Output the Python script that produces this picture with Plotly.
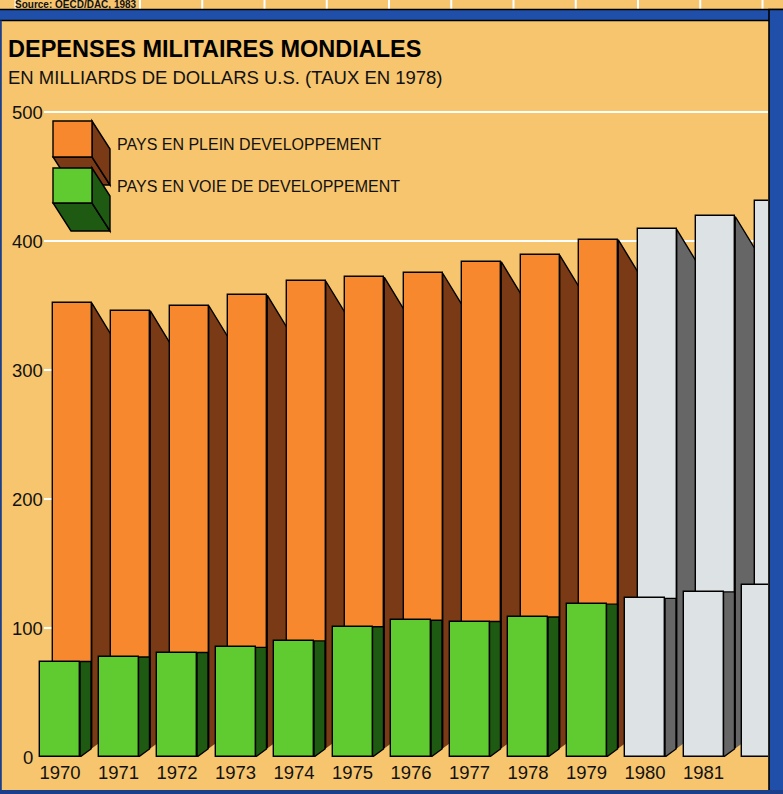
import plotly.graph_objects as go

# ---------------- data ----------------
years = list(range(1970, 1983))
pays_plein_dev = [352, 346, 350, 358, 369, 372, 375, 384, 389, 401, 409, 419, 431]
pays_voie_dev = [74, 77.5, 81, 85, 90, 101, 106, 105, 108.5, 118.5, 123, 128, 133]
tick_years = list(range(1970, 1982))
y_ticks = [0, 100, 200, 300, 400, 500]
first_estimate_year = 1980

title = "DEPENSES MILITAIRES MONDIALES"
subtitle = "EN MILLIARDS DE DOLLARS U.S. (TAUX EN 1978)"
legend_labels = ["PAYS EN PLEIN DEVELOPPEMENT", "PAYS EN VOIE DE DEVELOPPEMENT"]
source_text = "Source: OECD/DAC, 1983"

# ---------------- style / geometry ----------------
W, H = 783, 794
M_L, M_R, M_T, M_B = 0, 15, 21, 37
PLOT_W = W - M_L - M_R
PLOT_H = H - M_T - M_B
PX_PER_YEAR = 58.5
PX_PER_UNIT = 1.29
FIRST_CENTER_PX = 60

x_range = [years[0] - FIRST_CENTER_PX / PX_PER_YEAR,
           years[0] + (PLOT_W - FIRST_CENTER_PX) / PX_PER_YEAR]
y_range = [0, PLOT_H / PX_PER_UNIT]

TAN = "#f6c56e"
ORANGE, BROWN = "#f8882e", "#7a3a15"
GREEN, DKGREEN = "#5fcb30", "#1f5a12"
GRAY_F, GRAY_S = "#dde3e5", "#666666"
BLUE = "#1f4fa8"
INK = "#111111"
FONT = "Liberation Sans"

# bar geometry in data units
O_OFF, O_W = -7.3 / PX_PER_YEAR, 39 / PX_PER_YEAR
O_DX = 1 - O_W
O_DROP = (29.5 / 18) * (O_DX * PX_PER_YEAR) / PX_PER_UNIT
G_OFF, G_W = -20 / PX_PER_YEAR, 40 / PX_PER_YEAR
G_DX = 11 / PX_PER_YEAR
G_RISE = 8 / PX_PER_UNIT
GAP = 1 - G_W
GAP_RISE = G_RISE * GAP / G_DX


def px(x):
    return (x - M_L) / PLOT_W


def py(y):
    return (H - M_B - y) / PLOT_H


est = [y >= first_estimate_year for y in years]
up_front = [GRAY_F if e else ORANGE for e in est]
up_side = [GRAY_S if e else BROWN for e in est]
lo_front = [GRAY_F if e else GREEN for e in est]
lo_side = [GRAY_S if e else DKGREEN for e in est]

fig = go.Figure()

# upper (orange / grey) side faces
for yr, v, c in zip(years, pays_plein_dev, up_side):
    xr = yr + O_OFF + O_W
    fig.add_trace(go.Scatter(
        x=[xr, xr + O_DX, xr + O_DX, xr, xr],
        y=[v, v - O_DROP, 0, 0, v],
        mode="lines", fill="toself", fillcolor=c,
        line=dict(color="black", width=1.4),
        hoverinfo="skip", showlegend=False, zorder=0))

# upper front faces
fig.add_trace(go.Bar(
    x=years, y=pays_plein_dev, width=O_W, offset=O_OFF,
    marker=dict(color=up_front, line=dict(color="black", width=1.4)),
    hoverinfo="skip", showlegend=False, zorder=1))

# ground cut between bars
for yr in years:
    xr = yr + G_OFF + G_W
    fig.add_trace(go.Scatter(
        x=[xr, xr + GAP, xr + GAP, xr],
        y=[0, GAP_RISE, 0, 0],
        mode="lines", fill="toself", fillcolor=TAN,
        line=dict(color=TAN, width=0),
        hoverinfo="skip", showlegend=False, zorder=2))

# lower (green / grey) side faces
for yr, v, c in zip(years, pays_voie_dev, lo_side):
    xr = yr + G_OFF + G_W
    fig.add_trace(go.Scatter(
        x=[xr, xr + G_DX, xr + G_DX, xr, xr],
        y=[v, v, G_RISE, 0, v],
        mode="lines", fill="toself", fillcolor=c,
        line=dict(color="black", width=1.4),
        hoverinfo="skip", showlegend=False, zorder=3))

# lower front faces
fig.add_trace(go.Bar(
    x=years, y=pays_voie_dev, width=G_W, offset=G_OFF,
    marker=dict(color=lo_front, line=dict(color="black", width=1.4)),
    hoverinfo="skip", showlegend=False, zorder=4))

shapes = []
# white gridlines (start right of the labels)
for t in y_ticks[1:]:
    shapes.append(dict(type="line", xref="x", yref="y",
                       x0=x_range[0] + 44 / PX_PER_YEAR, x1=x_range[1],
                       y0=t, y1=t, line=dict(color="white", width=2),
                       layer="below"))


def rect(x0, y0, x1, y1, fill, lw=0, lc="black"):
    return dict(type="rect", xref="paper", yref="paper",
                x0=px(x0), x1=px(x1), y0=py(y1), y1=py(y0),
                fillcolor=fill, line=dict(color=lc, width=lw), layer="above")


def poly(points, fill):
    d = "M " + " L ".join(f"{px(a):.5f},{py(b):.5f}" for a, b in points) + " Z"
    return dict(type="path", xref="paper", yref="paper", path=d,
                fillcolor=fill, line=dict(color="black", width=1.4), layer="above")


# top strip with fragment of the previous chart
for k in range(13):
    xx = 15.5 + 62.25 * k
    shapes.append(dict(type="line", xref="paper", yref="paper",
                       x0=px(xx), x1=px(xx), y0=py(9.5), y1=py(-2),
                       line=dict(color="white", width=2), layer="above"))
# frame
shapes.append(rect(-5, 9.5, W + 5, 20.5, BLUE, 1.6))
shapes.append(rect(769, 9.5, W + 5, H + 5, BLUE, 1.6))
shapes.append(rect(-5, 20.5, 1.8, H + 5, "#1b3f8a", 0))
shapes.append(rect(-5, 790, W + 5, H + 5, "#1b3f8a", 0))

# legend cubes
dx3, dy3 = 18, 28
for (x0, y0, x1, y1), f, s in [((53, 121, 92, 157), ORANGE, BROWN),
                               ((53, 168, 92, 203), GREEN, DKGREEN)]:
    shapes.append(poly([(x0, y1), (x1, y1), (x1 + dx3, y1 + dy3), (x0 + dx3, y1 + dy3)], s))
    shapes.append(poly([(x1, y0), (x1 + dx3, y0 + dy3), (x1 + dx3, y1 + dy3), (x1, y1)], s))
    shapes.append(poly([(x0, y0), (x1, y0), (x1, y1), (x0, y1)], f))

annotations = []
annotations.append(dict(text=source_text, xref="paper", yref="paper",
                        x=px(14), y=py(4.5), xanchor="left", yanchor="middle",
                        showarrow=False, borderpad=0,
                        font=dict(family=FONT, size=10, color=INK, weight="bold")))
annotations.append(dict(text=title, xref="paper", yref="paper",
                        x=px(6), y=py(49), xanchor="left", yanchor="middle",
                        showarrow=False, font=dict(family=FONT, size=23.5, color="black",
                                                   weight="bold")))
annotations.append(dict(text=subtitle, xref="paper", yref="paper",
                        x=px(6), y=py(77), xanchor="left", yanchor="middle",
                        showarrow=False, font=dict(family=FONT, size=18.5, color=INK)))
for lab, yy in zip(legend_labels, [145, 187]):
    annotations.append(dict(text=lab, xref="paper", yref="paper",
                            x=px(115), y=py(yy), xanchor="left", yanchor="middle",
                            showarrow=False, font=dict(family=FONT, size=16, color=INK)))
for t in y_ticks:
    annotations.append(dict(text=str(t), xref="paper", yref="y",
                            x=px(27.5), y=t, xanchor="center", yanchor="middle",
                            showarrow=False, font=dict(family=FONT, size=18.5, color=INK)))

fig.update_layout(
    width=W, height=H,
    margin=dict(l=M_L, r=M_R, t=M_T, b=M_B, pad=0),
    paper_bgcolor=TAN, plot_bgcolor=TAN,
    barmode="overlay", bargap=0,
    showlegend=False,
    shapes=shapes, annotations=annotations,
    xaxis=dict(range=x_range, tickvals=tick_years, ticktext=[str(y) for y in tick_years],
               showgrid=False, zeroline=False, showline=False, ticks="",
               ticklabelstandoff=2,
               tickfont=dict(family=FONT, size=18.5, color=INK), fixedrange=True),
    yaxis=dict(range=y_range, showticklabels=False, showgrid=False, zeroline=False,
               showline=False, ticks="", fixedrange=True),
)

fig.write_html("out.html", config={"displayModeBar": False},
               post_script="document.body.style.margin='0';document.body.style.overflow='hidden';")
